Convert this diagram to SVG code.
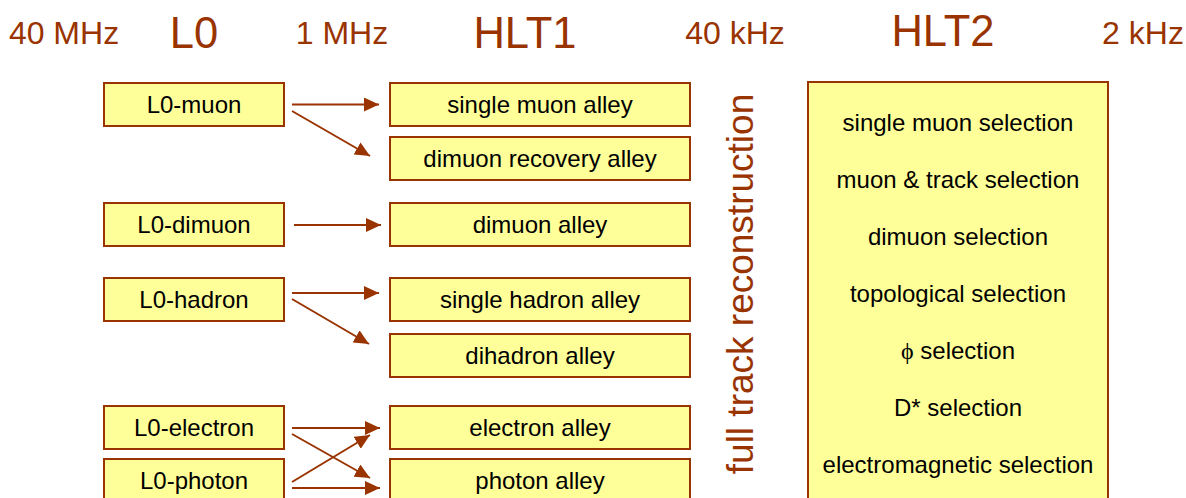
<svg xmlns="http://www.w3.org/2000/svg" width="1186" height="498" viewBox="0 0 1186 498">
  <defs>
    <marker id="arrow" markerUnits="userSpaceOnUse" markerWidth="15" markerHeight="14" refX="15" refY="7" orient="auto">
      <path d="M0,0 L15,7 L0,14 z" fill="#993300"/>
    </marker>
    <style>
      .rate { font-family: "Liberation Sans", Arial, sans-serif; font-size: 32px; fill: #993300; text-anchor: middle; }
      .stage { font-family: "Liberation Sans", Arial, sans-serif; font-size: 43.5px; fill: #993300; text-anchor: middle; }
      .box { fill: #ffff99; stroke: #993300; stroke-width: 2; }
      .lbl { font-family: "Liberation Sans", Arial, sans-serif; font-size: 24px; fill: #000; text-anchor: middle; }
      .conn { stroke: #993300; stroke-width: 2; fill: none; marker-end: url(#arrow); }
      .vert { font-family: "Liberation Sans", Arial, sans-serif; font-size: 37px; fill: #993300; text-anchor: middle; }
    </style>
  </defs>
  <rect width="1186" height="498" fill="#ffffff"/>

  <!-- rates and trigger stages -->
  <g id="header">
    <text class="rate" x="64" y="44">40 MHz</text>
    <text class="stage" x="194" y="48">L0</text>
    <text class="rate" x="342" y="44">1 MHz</text>
    <text class="stage" x="525" y="48">HLT1</text>
    <text class="rate" x="735" y="44">40 kHz</text>
    <text class="stage" x="943" y="46">HLT2</text>
    <text class="rate" x="1143" y="44">2 kHz</text>
  </g>

  <!-- L0 triggers -->
  <g id="l0-muon"><rect class="box" x="104" y="83" width="180" height="43"/><text class="lbl" x="194" y="113">L0-muon</text></g>
  <g id="l0-dimuon"><rect class="box" x="104" y="203" width="180" height="43"/><text class="lbl" x="194" y="233">L0-dimuon</text></g>
  <g id="l0-hadron"><rect class="box" x="104" y="278" width="180" height="43"/><text class="lbl" x="194" y="308">L0-hadron</text></g>
  <g id="l0-electron"><rect class="box" x="104" y="406" width="180" height="43"/><text class="lbl" x="194" y="436">L0-electron</text></g>
  <g id="l0-photon"><rect class="box" x="104" y="459" width="180" height="43"/><text class="lbl" x="194" y="489">L0-photon</text></g>

  <!-- HLT1 alleys -->
  <g id="hlt1-single-muon"><rect class="box" x="390" y="83" width="300" height="43"/><text class="lbl" x="540" y="113">single muon alley</text></g>
  <g id="hlt1-dimuon-recovery"><rect class="box" x="390" y="137" width="300" height="43"/><text class="lbl" x="540" y="167">dimuon recovery alley</text></g>
  <g id="hlt1-dimuon"><rect class="box" x="390" y="203" width="300" height="43"/><text class="lbl" x="540" y="233">dimuon alley</text></g>
  <g id="hlt1-single-hadron"><rect class="box" x="390" y="278" width="300" height="43"/><text class="lbl" x="540" y="308">single hadron alley</text></g>
  <g id="hlt1-dihadron"><rect class="box" x="390" y="334" width="300" height="43"/><text class="lbl" x="540" y="364">dihadron alley</text></g>
  <g id="hlt1-electron"><rect class="box" x="390" y="406" width="300" height="43"/><text class="lbl" x="540" y="436">electron alley</text></g>
  <g id="hlt1-photon"><rect class="box" x="390" y="459" width="300" height="43"/><text class="lbl" x="540" y="489">photon alley</text></g>

  <!-- track reconstruction step -->
  <g id="full-track-reconstruction">
    <text class="vert" transform="translate(753,284) rotate(-90)">full track reconstruction</text>
  </g>

  <!-- HLT2 selections -->
  <g id="hlt2">
    <rect class="box" x="808" y="82" width="300" height="430"/>
    <text class="lbl" x="958" y="130.5">single muon selection</text>
    <text class="lbl" x="958" y="187.5">muon &amp; track selection</text>
    <text class="lbl" x="958" y="244.5">dimuon selection</text>
    <text class="lbl" x="958" y="301.5">topological selection</text>
    <text class="lbl" x="958" y="358.5"><tspan font-family="'Liberation Serif', serif">ϕ</tspan> selection</text>
    <text class="lbl" x="958" y="415.5">D* selection</text>
    <text class="lbl" x="958" y="472.5">electromagnetic selection</text>
  </g>

  <!-- connectors L0 -> HLT1 -->
  <g id="connectors">
    <line class="conn" x1="292" y1="104.5" x2="379" y2="104.5"/>
    <line class="conn" x1="292" y1="111" x2="370" y2="156"/>
    <line class="conn" x1="294" y1="225" x2="381" y2="225"/>
    <line class="conn" x1="292" y1="293" x2="379" y2="293"/>
    <line class="conn" x1="292" y1="299" x2="369" y2="344"/>
    <line class="conn" x1="292" y1="428" x2="380" y2="428"/>
    <line class="conn" x1="292" y1="434" x2="370" y2="478"/>
    <line class="conn" x1="292" y1="482" x2="370" y2="435"/>
    <line class="conn" x1="292" y1="488" x2="380" y2="488"/>
  </g>
</svg>
